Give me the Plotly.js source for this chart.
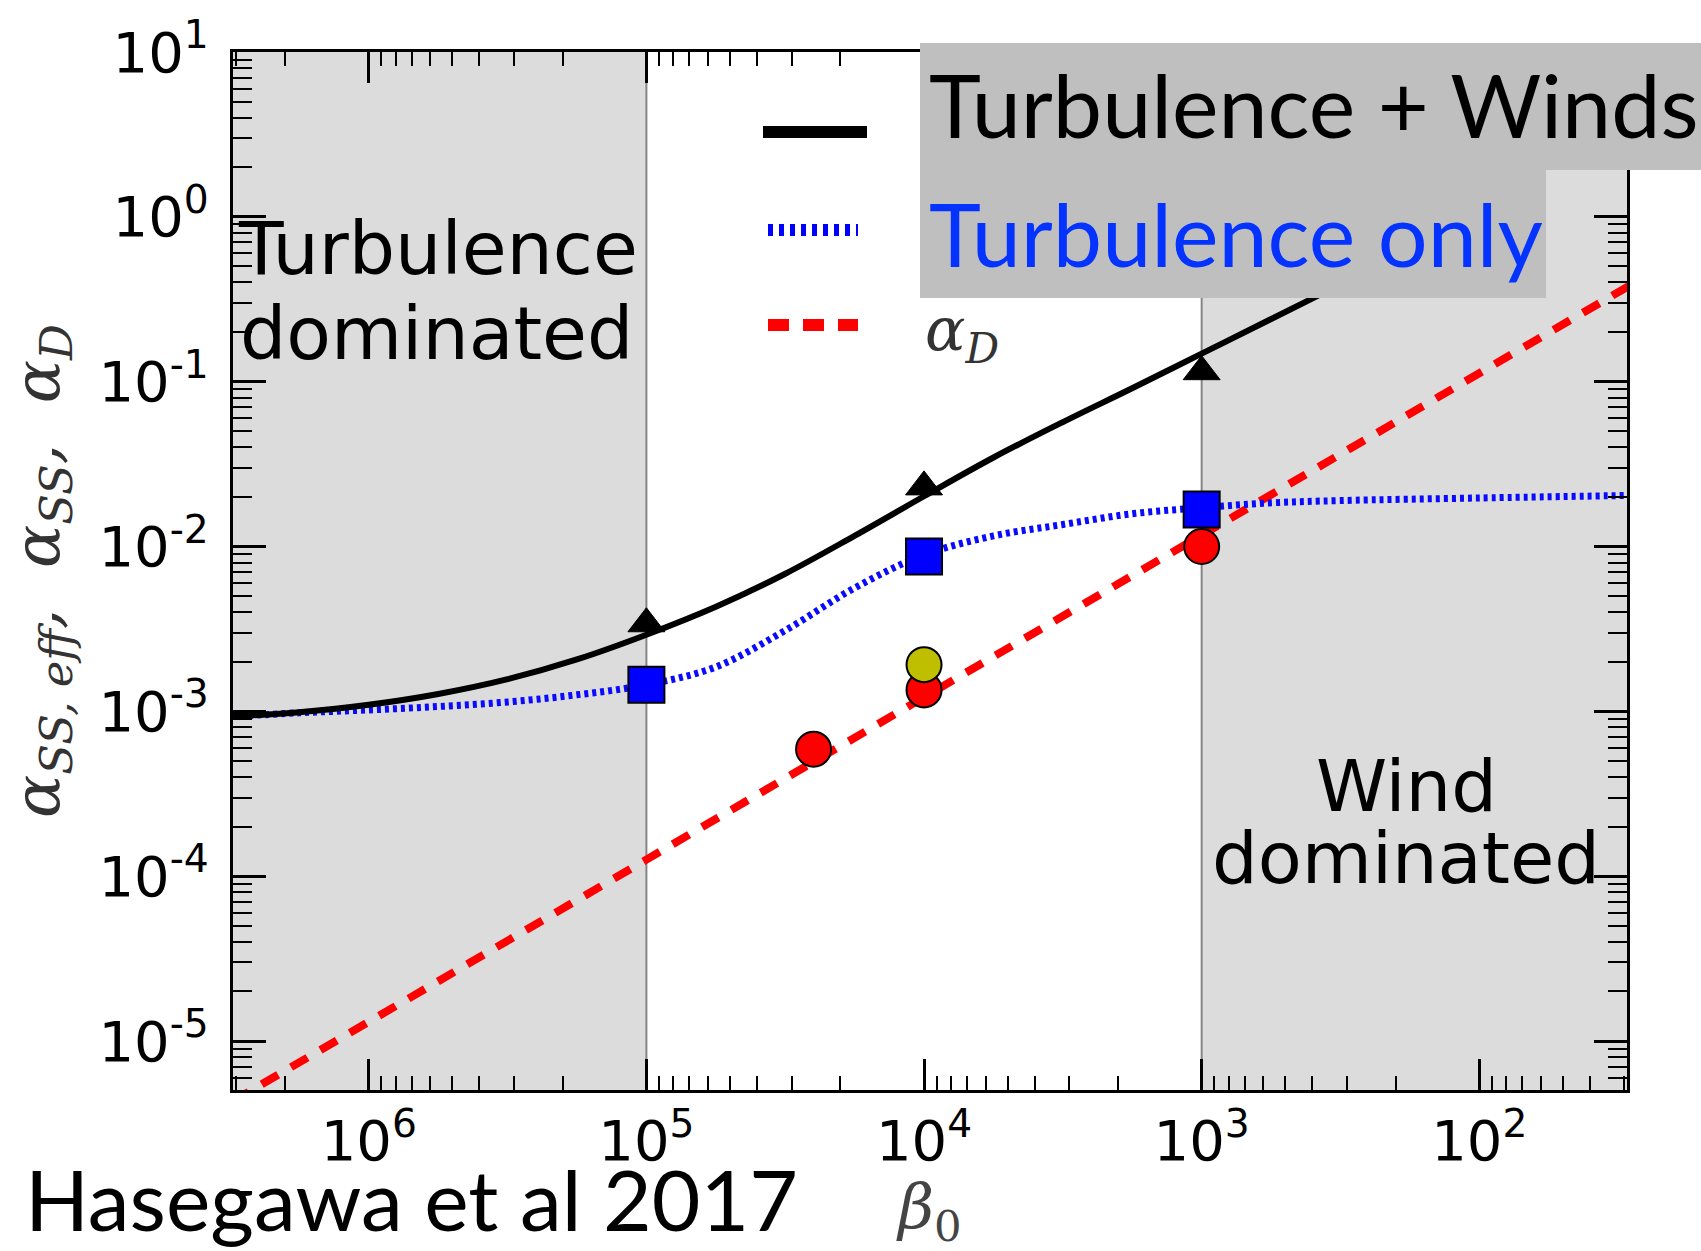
<!DOCTYPE html>
<html><head><meta charset="utf-8">
<script src="https://cdn.plot.ly/plotly-3.0.1.min.js"></script>
<style>html,body{margin:0;padding:0;background:#fff;}#chart{width:1701px;height:1251px;}</style>
</head><body><div id="chart"></div>
<script>
// ---- data (beta_0 decreasing to the right) ----
const betaTurbWinds  = [3.08e6, 1.78e6, 1e6, 5.62e5, 3.16e5, 1.78e5, 1e5, 5.62e4, 3.16e4, 1.78e4, 1e4, 5.62e3, 3.16e3, 1.78e3, 1e3, 5.62e2, 3.16e2, 1.78e2, 1e2];
const alphaTurbWinds = [9.33e-4, 9.89e-4, 1.096e-3, 1.274e-3, 1.567e-3, 2.065e-3, 2.917e-3, 4.315e-3, 6.839e-3, 1.161e-2, 2.018e-2, 3.467e-2, 5.689e-2, 9.12e-2, 0.148, 0.240, 0.389, 0.631, 1.023];
const betaTurbOnly   = [3.08e6, 1.78e6, 1e6, 5.62e5, 3.16e5, 1.78e5, 1e5, 5.62e4, 3.16e4, 1.78e4, 1e4, 5.62e3, 3.16e3, 1.78e3, 1e3, 5.62e2, 3.16e2, 1e2, 2.94e1];
const alphaTurbOnly  = [9.3e-4, 9.8e-4, 1.02e-3, 1.07e-3, 1.14e-3, 1.26e-3, 1.45e-3, 1.86e-3, 3.1e-3, 5.6e-3, 8.9e-3, 1.16e-2, 1.36e-2, 1.58e-2, 1.72e-2, 1.84e-2, 1.9e-2, 1.97e-2, 2.04e-2];
const betaAlphaD     = [3.1e6, 1e6, 1e5, 1e4, 1e3, 1e2, 2.9e1];
const alphaDLine     = [4.3e-6, 1.3e-5, 1.26e-4, 1.22e-3, 1.17e-2, 0.114, 0.38];
const simBeta            = [1e5, 1e4, 1e3];
const simAlphaTurbWinds  = [3.4e-3, 2.3e-2, 0.115];
const simAlphaTurbOnly   = [1.45e-3, 8.7e-3, 1.68e-2];
const simBetaAlphaD      = [2.5e4, 1e4, 1e3];
const simAlphaD          = [5.9e-4, 1.35e-3, 1.0e-2];
const simBetaExtra       = [1e4];
const simAlphaExtra      = [1.92e-3];
const regionEdges = [1e5, 1e3];   // turbulence-dominated | wind-dominated boundaries
const legendLabels = ['Turbulence + Winds', 'Turbulence only', 'α<sub>D</sub>'];
const xTickVals = [1e6, 1e5, 1e4, 1e3, 1e2];
const xTickText = ['10<sup>6</sup>', '10<sup>5</sup>', '10<sup>4</sup>', '10<sup>3</sup>', '10<sup>2</sup>'];
const yTickVals = [1e-5, 1e-4, 1e-3, 1e-2, 1e-1, 1e0, 1e1];
const yTickText = ['10<sup>-5</sup>', '10<sup>-4</sup>', '10<sup>-3</sup>', '10<sup>-2</sup>', '10<sup>-1</sup>', '10<sup>0</sup>', '10<sup>1</sup>'];

// ---- layout geometry ----
const W = 1701, H = 1251, ML = 233, MR = 74, MT = 52, MB = 161;
const PW = W - ML - MR, PH = H - MT - MB;
const px = X => (X - ML) / PW;
const py = Y => (H - MB - Y) / PH;
const xRange = [6.489, 1.468];
const yRange = [-5.297, 1.0];
// bounds beyond the visible axes (the plot area clips them)
const xFar = [Math.pow(10, xRange[0] + 1), Math.pow(10, xRange[1] - 1)];
const yFar = [Math.pow(10, yRange[0] - 1), Math.pow(10, yRange[1] + 1)];

function minorVals(lo, hi) {
  const v = [];
  for (let d = lo; d <= hi; d++) for (let k = 2; k <= 9; k++) v.push(k * Math.pow(10, d));
  return v;
}

const SHADE = '#dcdcdc';
const traces = [
  // shaded regimes
  {x: [xFar[0], regionEdges[0], regionEdges[0], xFar[0]], y: [yFar[0], yFar[0], yFar[1], yFar[1]], mode: 'lines', fill: 'toself', fillcolor: SHADE, line: {width: 0, color: SHADE}, showlegend: false},
  {x: [regionEdges[1], xFar[1], xFar[1], regionEdges[1]], y: [yFar[0], yFar[0], yFar[1], yFar[1]], mode: 'lines', fill: 'toself', fillcolor: SHADE, line: {width: 0, color: SHADE}, showlegend: false},
  {x: [regionEdges[0], regionEdges[0]], y: yFar, mode: 'lines', line: {color: '#858585', width: 2}, showlegend: false},
  {x: [regionEdges[1], regionEdges[1]], y: yFar, mode: 'lines', line: {color: '#858585', width: 2}, showlegend: false},
  // model curves
  {x: betaAlphaD, y: alphaDLine, mode: 'lines', line: {color: '#ff0000', width: 8, dash: '19px,15px'}, name: 'α_D', showlegend: false},
  {x: betaTurbOnly, y: alphaTurbOnly, mode: 'lines', line: {color: '#0a0aff', width: 7, dash: '4px,4px', shape: 'spline', smoothing: 1}, name: 'Turbulence only', showlegend: false},
  {x: betaTurbWinds, y: alphaTurbWinds, mode: 'lines', line: {color: '#000000', width: 6, shape: 'spline', smoothing: 1}, name: 'Turbulence + Winds', showlegend: false},
  // simulation points
  {x: simBeta, y: simAlphaTurbWinds, mode: 'markers', marker: {symbol: 'triangle-up', size: 32, color: '#000000', line: {color: '#000', width: 1}}, showlegend: false},
  {x: simBeta, y: simAlphaTurbOnly, mode: 'markers', marker: {symbol: 'square', size: 36, color: '#0000ff', line: {color: '#000', width: 2}}, showlegend: false},
  {x: simBetaAlphaD, y: simAlphaD, mode: 'markers', marker: {symbol: 'circle', size: 35, color: '#ff0000', line: {color: '#000', width: 2}}, showlegend: false},
  {x: simBetaExtra, y: simAlphaExtra, mode: 'markers', marker: {symbol: 'circle', size: 35, color: '#bfbf00', line: {color: '#000', width: 2}}, showlegend: false}
];

const shapes = [
  // legend samples
  {type: 'line', xref: 'paper', yref: 'paper', x0: px(763), x1: px(867), y0: py(132), y1: py(132), line: {color: '#000', width: 12}, layer: 'above'},
  {type: 'line', xref: 'paper', yref: 'paper', x0: px(768), x1: px(858), y0: py(230), y1: py(230), line: {color: '#0000ff', width: 12, dash: '5px,6px'}, layer: 'above'},
  {type: 'line', xref: 'paper', yref: 'paper', x0: px(768), x1: px(858), y0: py(325), y1: py(325), line: {color: '#ff0000', width: 12, dash: '21px,14px'}, layer: 'above'},
  // grey label boxes pasted over the legend labels
  {type: 'rect', xref: 'paper', yref: 'paper', x0: px(920), x1: px(1710), y0: py(170), y1: py(43), fillcolor: '#bfbfbf', line: {width: 0}, layer: 'above'},
  {type: 'rect', xref: 'paper', yref: 'paper', x0: px(920), x1: px(1546), y0: py(298), y1: py(169), fillcolor: '#bfbfbf', line: {width: 0}, layer: 'above'}
];

const annotations = [
  {text: legendLabels[0], xref: 'paper', yref: 'paper', x: px(928), y: py(104), xanchor: 'left', yanchor: 'middle', showarrow: false, borderpad: 0, font: {family: 'Lato', size: 88, color: '#000'}},
  {text: legendLabels[1], xref: 'paper', yref: 'paper', x: px(928), y: py(233), xanchor: 'left', yanchor: 'middle', showarrow: false, borderpad: 0, font: {family: 'Lato', size: 88, color: '#0433ff'}},
  {text: '<i>' + legendLabels[2] + '</i>', xref: 'paper', yref: 'paper', x: px(924), y: py(333), xanchor: 'left', yanchor: 'middle', showarrow: false, borderpad: 0, font: {family: 'DejaVu Serif', size: 60, color: '#333'}},
  {text: 'Turbulence', xref: 'paper', yref: 'paper', x: px(237), y: py(248), xanchor: 'left', yanchor: 'middle', showarrow: false, borderpad: 0, font: {family: 'DejaVu Sans', size: 73, color: '#000'}},
  {text: 'dominated', xref: 'paper', yref: 'paper', x: px(239), y: py(333), xanchor: 'left', yanchor: 'middle', showarrow: false, borderpad: 0, font: {family: 'DejaVu Sans', size: 73, color: '#000'}},
  {text: 'Wind', xref: 'paper', yref: 'paper', x: px(1406), y: py(786), xanchor: 'center', yanchor: 'middle', showarrow: false, borderpad: 0, font: {family: 'DejaVu Sans', size: 72, color: '#000'}},
  {text: 'dominated', xref: 'paper', yref: 'paper', x: px(1406), y: py(858), xanchor: 'center', yanchor: 'middle', showarrow: false, borderpad: 0, font: {family: 'DejaVu Sans', size: 72, color: '#000'}},
  {text: 'Hasegawa et al 2017', xref: 'paper', yref: 'paper', x: px(24), y: py(1198), xanchor: 'left', yanchor: 'middle', showarrow: false, borderpad: 0, font: {family: 'Lato', size: 84, color: '#000'}}
];

const axisCommon = {
  type: 'log', showline: true, linecolor: '#000', linewidth: 3, mirror: 'ticks',
  ticks: 'inside', tickwidth: 3, tickcolor: '#000',
  tickmode: 'array', showgrid: false, zeroline: false, automargin: false,
  tickfont: {family: 'DejaVu Sans', size: 56, color: '#000'}
};

const layout = {
  width: W, height: H, autosize: false,
  margin: {l: ML, r: MR, t: MT, b: MB, pad: 0},
  paper_bgcolor: '#fff', plot_bgcolor: '#fff',
  showlegend: false, hovermode: false,
  xaxis: Object.assign({}, axisCommon, {
    range: xRange, ticklen: 31, tickvals: xTickVals, ticktext: xTickText,
    minor: {tickmode: 'array', tickvals: minorVals(1, 6), ticks: 'inside', ticklen: 14, tickwidth: 2, tickcolor: '#000', showgrid: false},
    title: {text: '<i>β</i><sub>0</sub>', font: {family: 'DejaVu Serif', size: 62, color: '#444'}, standoff: 14}
  }),
  yaxis: Object.assign({}, axisCommon, {
    range: yRange, ticklen: 33, tickvals: yTickVals, ticktext: yTickText, ticklabelstandoff: 10,
    minor: {tickmode: 'array', tickvals: minorVals(-6, 0), ticks: 'inside', ticklen: 19, tickwidth: 2, tickcolor: '#000', showgrid: false},
    title: {text: '<i>α</i><sub><i>SS, eff</i></sub><i>,  α</i><sub><i>SS</i></sub><i>,  α</i><sub><i>D</i></sub>', font: {family: 'DejaVu Serif', size: 64, color: '#333'}, standoff: 26}
  }),
  shapes: shapes,
  annotations: annotations
};

Plotly.newPlot('chart', traces, layout, {staticPlot: true, displayModeBar: false});
</script>
</body></html>
